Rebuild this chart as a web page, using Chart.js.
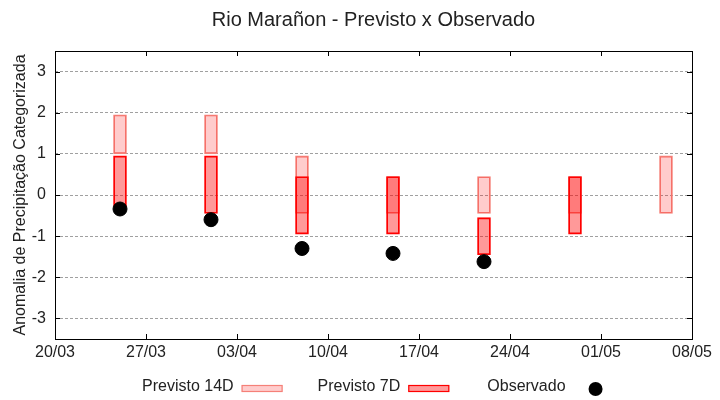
<!DOCTYPE html>
<html>
<head>
<meta charset="utf-8">
<script src="https://cdn.jsdelivr.net/npm/chart.js@4"></script>
<style>
  html, body { margin: 0; padding: 0; background: #fff; }
  #wrap { width: 720px; height: 400px; }
</style>
</head>
<body>
<div id="wrap"><canvas id="myChart"></canvas></div>
<script>
// eixo x: dias a partir de 20/03
const tickLabels = ['20/03', '27/03', '03/04', '10/04', '17/04', '24/04', '01/05', '08/05'];
const yTicks = [-3, -2, -1, 0, 1, 2, 3];

const forecastDates = ['25/03', '01/04', '08/04', '15/04', '22/04', '29/04', '06/05'];
const prev14Low  = [1.0, 1.0, -0.45, -0.45, -0.45, -0.45, -0.45];
const prev14High = [1.95, 1.95, 0.95, 0.45, 0.45, 0.45, 0.95];
const prev7Low   = [-0.3, -0.45, -0.95, -0.95, -1.45, -0.95, null];
const prev7High  = [0.95, 0.95, 0.45, 0.45, -0.55, 0.45, null];

const obsDates = ['25/03', '01/04', '08/04', '15/04', '22/04'];
const observado = [-0.34, -0.6, -1.3, -1.42, -1.62];

function dayOf(s) {
  const [d, m] = s.split('/').map(Number);
  return (Date.UTC(2024, m - 1, d) - Date.UTC(2024, 2, 20)) / 864e5;
}

function bars(low, high) {
  let out = [];
  for (let i = 0; i < forecastDates.length; i++) {
    if (low[i] === null) continue;
    out.push({ x: dayOf(forecastDates[i]), y: [low[i], high[i]] });
  }
  return out;
}

Chart.defaults.font.family = 'Liberation Sans, Arial, sans-serif';
Chart.defaults.font.size = 16;
Chart.defaults.color = '#222';

// moldura preta e tracinhos internos (estilo gnuplot)
const frame = {
  id: 'frame',
  afterDraw(chart) {
    const c = chart.ctx, a = chart.chartArea;
    const xs = chart.scales.x, ys = chart.scales.y;
    c.save();
    c.strokeStyle = '#000';
    c.lineWidth = 1;
    c.strokeRect(a.left + 0.5, a.top + 0.5, a.right - a.left, a.bottom - a.top);
    c.beginPath();
    xs.ticks.forEach(t => {
      const px = Math.round(xs.getPixelForValue(t.value)) + 0.5;
      c.moveTo(px, a.bottom); c.lineTo(px, a.bottom - 5);
      c.moveTo(px, a.top); c.lineTo(px, a.top + 5);
    });
    ys.ticks.forEach(t => {
      const py = Math.round(ys.getPixelForValue(t.value)) + 0.5;
      c.moveTo(a.left, py); c.lineTo(a.left + 5, py);
      c.moveTo(a.right, py); c.lineTo(a.right - 5, py);
    });
    c.stroke();
    c.restore();
  }
};

// legenda embaixo: texto e depois a amostra
const legendaBaixo = {
  id: 'legendaBaixo',
  afterDraw(chart) {
    const c = chart.ctx;
    const ds = chart.data.datasets;
    const y = 387;
    c.save();
    c.font = '16px Liberation Sans, Arial, sans-serif';
    c.textBaseline = 'middle';
    let x = 142;
    const gaps = [35, 38];
    for (let i = 0; i < 2; i++) {
      c.fillStyle = '#222';
      c.fillText(ds[i].label, x, y);
      x += c.measureText(ds[i].label).width + 8;
      c.fillStyle = ds[i].backgroundColor;
      c.fillRect(x, 385, 41, 7);
      c.strokeStyle = ds[i].borderColor;
      c.lineWidth = 1.2;
      c.strokeRect(x + 0.5, 385.5, 40, 6);
      x += 41 + gaps[i];
    }
    c.fillStyle = '#222';
    c.fillText(ds[2].label, x, y);
    x += c.measureText(ds[2].label).width + 30;
    c.beginPath();
    c.arc(x, 389, 7, 0, Math.PI * 2);
    c.fillStyle = '#000';
    c.fill();
    c.restore();
  }
};

const ctx = document.getElementById('myChart');

new Chart(ctx, {
  type: 'bar',
  data: {
    datasets: [
      {
        label: 'Previsto 14D',
        data: bars(prev14Low, prev14High),
        backgroundColor: 'rgba(255, 0, 0, 0.2)',
        borderColor: '#f58078',
        borderWidth: 1.2,
        borderSkipped: false,
        barThickness: 13,
        grouped: false,
        order: 3
      },
      {
        label: 'Previsto 7D',
        data: bars(prev7Low, prev7High),
        backgroundColor: 'rgba(255, 0, 0, 0.4)',
        borderColor: '#ff0000',
        borderWidth: 1.2,
        borderSkipped: false,
        barThickness: 13,
        grouped: false,
        order: 2
      },
      {
        type: 'scatter',
        label: 'Observado',
        data: obsDates.map((d, i) => ({ x: dayOf(d), y: observado[i] })),
        backgroundColor: '#000',
        borderColor: '#000',
        pointRadius: 7,
        pointHoverRadius: 7,
        order: 1
      }
    ]
  },
  options: {
    responsive: true,
    maintainAspectRatio: false,
    animation: false,
    layout: { padding: { left: 0, right: 28, top: 0, bottom: 34 } },
    plugins: {
      legend: { display: false },
      tooltip: { enabled: false },
      title: {
        display: true,
        text: 'Rio Marañon - Previsto x Observado',
        fullSize: false,
        font: { size: 20, weight: 'normal' },
        color: '#222',
        padding: { top: 8, bottom: 19 }
      }
    },
    scales: {
      x: {
        type: 'linear',
        min: 0,
        max: dayOf(tickLabels[tickLabels.length - 1]),
        offset: false,
        grid: { display: false, offset: false, drawTicks: false },
        border: { display: false },
        afterBuildTicks: s => { s.ticks = tickLabels.map(l => ({ value: dayOf(l) })); },
        afterFit: s => { s.height = 27; },
        ticks: {
          padding: 4,
          maxRotation: 0,
          autoSkip: false,
          callback: (v, i) => tickLabels[i]
        }
      },
      y: {
        min: -3.5,
        max: 3.5,
        afterBuildTicks: s => { s.ticks = yTicks.map(v => ({ value: v })); },
        afterFit: s => { s.width = 55; },
        grid: { color: '#a0a0a0', drawTicks: false, lineWidth: 1 },
        border: { display: false, dash: [3, 2] },
        ticks: { padding: 9 },
        title: {
          display: true,
          text: 'Anomalia de Precipitação Categorizada',
          font: { size: 16 },
          color: '#222',
          padding: { top: 11, bottom: 0 }
        }
      }
    }
  },
  plugins: [frame, legendaBaixo]
});
</script>
</body>
</html>
